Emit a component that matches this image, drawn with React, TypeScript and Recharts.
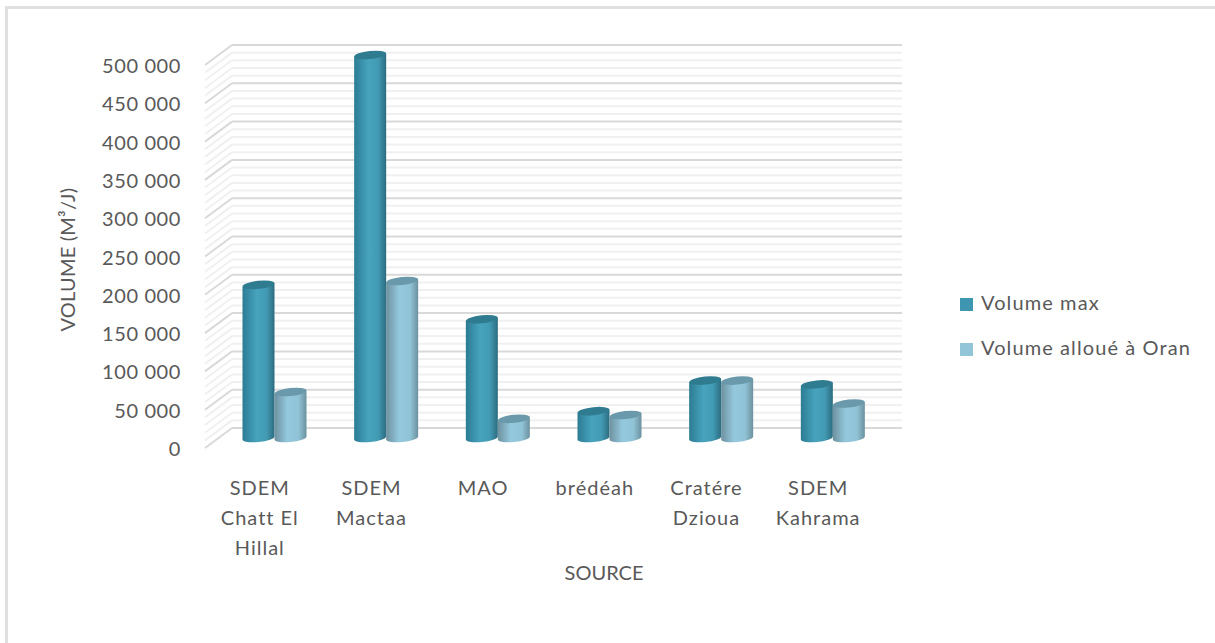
import { Bar, BarChart, CartesianGrid, XAxis, YAxis } from "recharts";

const categories = [
  "SDEM\nChatt El\nHillal",
  "SDEM\nMactaa",
  "MAO",
  "brédéah",
  "Cratére\nDzioua",
  "SDEM\nKahrama",
];
const volumeMax = [200000, 500000, 155000, 35000, 75000, 70000];
const volumeAlloue = [60000, 205000, 25000, 30000, 75000, 45000];
const majorTicks = [0, 50000, 100000, 150000, 200000, 250000, 300000, 350000, 400000, 450000, 500000];
const minorTicks = [
  10000, 20000, 30000, 40000, 60000, 70000, 80000, 90000, 110000, 120000, 130000, 140000,
  160000, 170000, 180000, 190000, 210000, 220000, 230000, 240000, 260000, 270000, 280000, 290000,
  310000, 320000, 330000, 340000, 360000, 370000, 380000, 390000, 410000, 420000, 430000, 440000,
  460000, 470000, 480000, 490000,
];

const data = categories.map((name, i) => ({
  name,
  max: volumeMax[i],
  alloue: volumeAlloue[i],
}));

const FONT = "Lato, sans-serif";
const TEXT = "#595959";
const MAJOR_LINE = "#d9d9d9";
const MINOR_LINE = "#f0f0f0";
// oblique offset between the back wall and the front edge of the floor
const DEPTH_X = 27;
const DEPTH_Y = 20;

const formatVolume = (v: number) => String(v).replace(/\B(?=(\d{3})+$)/g, " ");

function VolumeTick({ x, y, payload }: any) {
  const major = payload.value % 50000 === 0;
  // recharts hands over the tick anchor, 8px short of the plot edge
  const wallX = x + 8;
  return (
    <g>
      <line
        x1={wallX}
        y1={y}
        x2={wallX - DEPTH_X}
        y2={y + DEPTH_Y}
        stroke={major ? MAJOR_LINE : MINOR_LINE}
        strokeWidth={2}
      />
      {major && (
        <text
          x={wallX - 51}
          y={y + DEPTH_Y + 3}
          textAnchor="end"
          dominantBaseline="middle"
          fontFamily={FONT}
          fontSize={20}
          letterSpacing={0.6}
          fill={TEXT}
        >
          {formatVolume(payload.value)}
        </text>
      )}
    </g>
  );
}

function SourceTick({ x, y, payload }: any) {
  const lines = String(payload.value).split("\n");
  const labelX = x - DEPTH_X - 1;
  return (
    <text x={labelX} textAnchor="middle" fontFamily={FONT} fontSize={20} letterSpacing={1} fill={TEXT}>
      {lines.map((line, i) => (
        <tspan key={line} x={labelX} y={y + 59 + i * 30}>
          {line}
        </tspan>
      ))}
    </text>
  );
}

// Cylinder standing halfway between the back wall and the front edge
function Cylinder({ x, y, width, height, body, cap }: any) {
  const cx = x + width / 2 - DEPTH_X / 2;
  const left = x - DEPTH_X / 2;
  const top = y + DEPTH_Y / 2;
  const bottom = top + height;
  const rx = width / 2;
  const ry = 4;
  const tilt = 1.6;
  return (
    <g>
      <path
        d={`M${left},${top + tilt} L${left},${bottom + tilt} A${rx},${ry} -6 0 0 ${left + width},${bottom - tilt} L${left + width},${top - tilt} Z`}
        fill={`url(#${body})`}
      />
      <ellipse cx={cx} cy={top} rx={rx} ry={ry} fill={cap} transform={`rotate(-6 ${cx} ${top})`} />
    </g>
  );
}

function LegendBox() {
  const items = [
    { label: "Volume max", color: "#3e96b0", top: 298 },
    { label: "Volume alloué à Oran", color: "#92c5d8", top: 343 },
  ];
  return (
    <svg width={1215} height={643} style={{ position: "absolute", left: 0, top: 0 }}>
      {items.map((item) => (
        <g key={item.label}>
          <rect x={960} y={item.top} width={13} height={13} fill={item.color} />
          <text
            x={981}
            y={item.top + 7}
            dominantBaseline="middle"
            fontFamily={FONT}
            fontSize={20}
            letterSpacing={1.1}
            fill={TEXT}
          >
            {item.label}
          </text>
        </g>
      ))}
    </svg>
  );
}

export default function App() {
  return (
    <div style={{ position: "absolute", left: 0, top: 0, width: 1215, height: 643, background: "#fff", overflow: "hidden" }}>
      <div
        style={{
          position: "absolute",
          left: 5,
          top: 6,
          width: 1210,
          height: 637,
          borderLeft: "3px solid #e0e0e0",
          borderTop: "3px solid #e0e0e0",
          boxSizing: "border-box",
        }}
      />
      <LegendBox />
      <BarChart
        width={1215}
        height={643}
        data={data}
        barSize={32}
        barGap={0}
        margin={{ left: 132, right: 313, top: 45, bottom: 115 }}
        style={{ position: "absolute", left: 0, top: 0 }}
      >
        <defs>
          <linearGradient id="bodyMax" x1="0" y1="0" x2="1" y2="0">
            <stop offset="0" stopColor="#2b7c93" />
            <stop offset="0.45" stopColor="#47a3bd" />
            <stop offset="0.75" stopColor="#429ab3" />
            <stop offset="1" stopColor="#2c6c80" />
          </linearGradient>
          <linearGradient id="bodyAlloue" x1="0" y1="0" x2="1" y2="0">
            <stop offset="0" stopColor="#6d919f" />
            <stop offset="0.4" stopColor="#94c8dc" />
            <stop offset="0.75" stopColor="#90c3d6" />
            <stop offset="1" stopColor="#6c919e" />
          </linearGradient>
        </defs>
        <CartesianGrid horizontalValues={minorTicks} vertical={false} stroke={MINOR_LINE} strokeWidth={2} />
        <CartesianGrid horizontalValues={majorTicks} vertical={false} stroke={MAJOR_LINE} strokeWidth={2} />
        <XAxis
          dataKey="name"
          height={100}
          axisLine={false}
          tickLine={false}
          interval={0}
          tick={<SourceTick />}
          label={{ value: "SOURCE", position: "insideBottom", dx: 37, dy: 57, fill: TEXT, fontFamily: FONT, fontSize: 20 }}
        />
        <YAxis
          width={100}
          domain={[0, 500000]}
          ticks={[...majorTicks, ...minorTicks].sort((a, b) => a - b)}
          interval={0}
          axisLine={false}
          tickLine={false}
          tick={<VolumeTick />}
          label={{ value: "VOLUME (M³/J)", angle: -90, position: "insideLeft", dx: -69, dy: 95, fill: TEXT, fontFamily: FONT, fontSize: 20, letterSpacing: 0.2 }}
        />
        <Bar dataKey="max" name="Volume max" isAnimationActive={false} shape={<Cylinder body="bodyMax" cap="#2f7b8f" />} />
        <Bar dataKey="alloue" name="Volume alloué à Oran" isAnimationActive={false} shape={<Cylinder body="bodyAlloue" cap="#6a99ab" />} />
      </BarChart>
    </div>
  );
}
